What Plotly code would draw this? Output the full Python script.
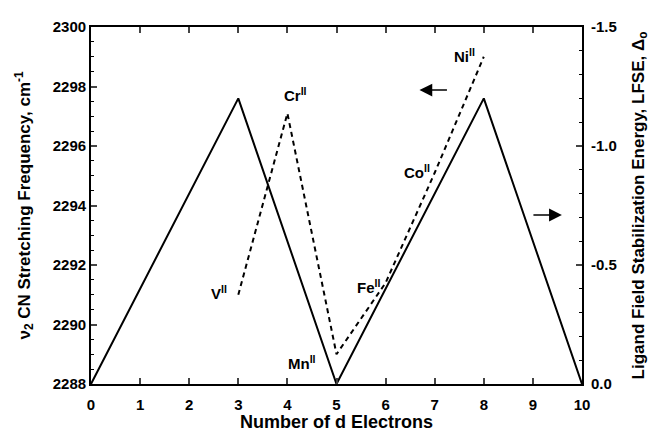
import plotly.graph_objects as go

# LFSE (solid line, right axis)
lfse_d = [0, 3, 5, 8, 10]
lfse_vals = [0.0, -1.2, 0.0, -1.2, 0.0]

# nu2 CN stretching frequency (dashed line, left axis)
ions = ["V", "Cr", "Mn", "Fe", "Co", "Ni"]
ion_d = [3, 4, 5, 6, 7, 8]
nu2 = [2291.0, 2297.1, 2289.0, 2291.4, 2295.1, 2299.0]

left_ticks = [2288, 2290, 2292, 2294, 2296, 2298, 2300]
right_ticks = [0.0, -0.5, -1.0, -1.5]
right_ticklabels = ["0.0", "-0.5", "-1.0", "-1.5"]
x_ticks = list(range(0, 11))

FONT = "Liberation Sans"

fig = go.Figure()
fig.add_trace(go.Scatter(x=ion_d, y=nu2, mode="lines",
                         line=dict(color="black", width=2, dash="5px,4px"),
                         yaxis="y", showlegend=False))
fig.add_trace(go.Scatter(x=lfse_d, y=lfse_vals, mode="lines",
                         line=dict(color="black", width=2),
                         yaxis="y2", showlegend=False))

# label offsets in pixels relative to each data point
label_shift = {"V": (-19, 2), "Cr": (8, 19), "Mn": (-35, -8),
               "Fe": (-17, -4), "Co": (-18, 1), "Ni": (-19, 1)}
annotations = []
for ion, xd, yv in zip(ions, ion_d, nu2):
    dx, dy = label_shift[ion]
    annotations.append(dict(x=xd, y=yv, xref="x", yref="y",
                            text=f"{ion}<sup>II</sup>", showarrow=False,
                            xshift=dx, yshift=dy,
                            font=dict(family=FONT, size=15, color="black", weight="bold")))

# direction arrows
annotations.append(dict(x=6.69, y=2297.88, ax=7.28, ay=2297.88, xref="x", yref="y",
                        axref="x", ayref="y", text="", showarrow=True,
                        arrowhead=2, arrowsize=1.6, arrowwidth=1.6, arrowcolor="black"))
annotations.append(dict(x=9.59, y=2293.68, ax=8.98, ay=2293.68, xref="x", yref="y",
                        axref="x", ayref="y", text="", showarrow=True,
                        arrowhead=2, arrowsize=1.6, arrowwidth=1.6, arrowcolor="black"))

tickfont = dict(family=FONT, size=15, color="black", weight="bold")
titlefont = dict(family=FONT, size=17, color="black", weight="bold")

fig.update_layout(
    width=652, height=432,
    margin=dict(l=91, r=70, t=27, b=48),
    paper_bgcolor="white", plot_bgcolor="white",
    font=dict(family=FONT, color="black"),
    annotations=annotations,
    xaxis=dict(range=[0, 10], tickvals=x_ticks, ticks="inside", ticklen=6, tickwidth=1.5,
               showline=True, linecolor="black", linewidth=1.8, mirror="ticks",
               showgrid=False, zeroline=False, tickfont=tickfont, ticklabelstandoff=6,
               automargin=False,
               title=dict(text="Number of d Electrons", font=dict(family=FONT, size=18, color="black", weight="bold"), standoff=9)),
    yaxis=dict(range=[2288, 2300], tickvals=left_ticks, ticks="inside", ticklen=6, tickwidth=1.5,
               showline=True, linecolor="black", linewidth=1.8, automargin=False,
               minor=dict(dtick=0.5, ticks="inside", ticklen=3, tickwidth=1, tickcolor="black"),
               showgrid=False, zeroline=False, tickfont=tickfont,
               title=dict(text="ν<sub>2</sub> CN Stretching Frequency, cm<sup>-1</sup>", font=titlefont, standoff=18)),
    yaxis2=dict(range=[0, -1.5], overlaying="y", side="right", anchor="x",
                tickvals=right_ticks, ticktext=right_ticklabels,
                ticks="inside", ticklen=6, tickwidth=1.5, automargin=False,
                showline=True, linecolor="black", linewidth=1.8,
                minor=dict(dtick=0.1, ticks="inside", ticklen=3, tickwidth=1, tickcolor="black"),
                showgrid=False, zeroline=False, tickfont=tickfont, ticklabelstandoff=4,
                title=dict(text="Ligand Field Stabilization Energy, LFSE, Δ<sub>o</sub>", font=titlefont, standoff=16)),
)

fig.write_html("out.html")
